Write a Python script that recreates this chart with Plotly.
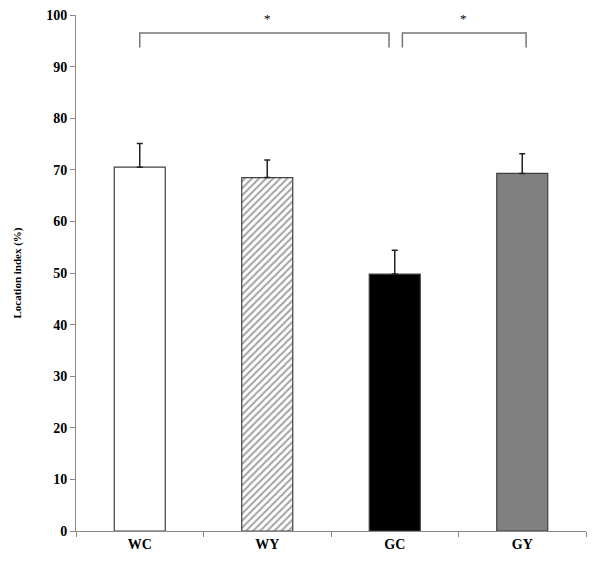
import plotly.graph_objects as go

# Bar values
groups = ["WC", "WY", "GC", "GY"]
means = [70.5, 68.5, 49.8, 69.3]
errors = [4.6, 3.4, 4.6, 3.8]
fills = ["white", "white", "black", "#808080"]
hatch = ["", "/", "", ""]

# Significance brackets: (start index, end index, level)
brackets = [(0, 1.955, 96.5), (2.06, 3.03, 96.5)]
bracket_drop = 2.8
stars = [(1.0, 99.4), (2.54, 99.3)]

serif = "Liberation Serif, Times New Roman, serif"

fig = go.Figure()
fig.add_trace(go.Bar(
    x=groups,
    y=means,
    width=0.4,
    marker=dict(
        color=fills,
        line=dict(color="#404040", width=1.2),
        pattern=dict(shape=hatch, fgcolor="#111111", bgcolor="white", size=5, solidity=0.4),
    ),
    error_y=dict(type="data", array=errors, arrayminus=[0] * 4, symmetric=False,
                 color="#222222", thickness=1.5, width=3),
    showlegend=False,
))

# Draw the brackets above the bars
for x0, x1, lvl in brackets:
    fig.add_shape(type="path", xref="x", yref="y",
                  path=f"M {x0},{lvl - bracket_drop} L {x0},{lvl} L {x1},{lvl} L {x1},{lvl - bracket_drop}",
                  line=dict(color="#777777", width=1.5))

for sx, sy in stars:
    fig.add_annotation(x=sx, y=sy, text="*", showarrow=False, xref="x", yref="y",
                       font=dict(family=serif, size=13, color="black"))

# page body has an 8px margin, so the figure is a bit smaller than the window
fig.update_layout(
    width=592, height=565,
    margin=dict(l=68, r=14, t=7, b=42),
    plot_bgcolor="white", paper_bgcolor="white",
    bargap=0.6,
)
fig.update_xaxes(
    type="category", showline=True, linecolor="#888888", linewidth=1,
    ticks="outside", tickson="boundaries", ticklen=5, tickcolor="#888888",
    tickfont=dict(family=serif, size=14, color="black", weight="bold"),
    showgrid=False, range=[-0.5, 3.5], automargin=False,
)
fig.update_yaxes(
    range=[0, 100], dtick=10, showline=True, linecolor="#888888", linewidth=1,
    ticks="outside", ticklen=5, tickcolor="#888888", showgrid=False, zeroline=False,
    automargin=False, ticklabeloverflow="allow",
    tickfont=dict(family=serif, size=14, color="black", weight="bold"),
    title=dict(text="Location index (%)", standoff=22,
               font=dict(family=serif, size=11, color="black", weight="bold")),
)

fig.write_html("out.html")
